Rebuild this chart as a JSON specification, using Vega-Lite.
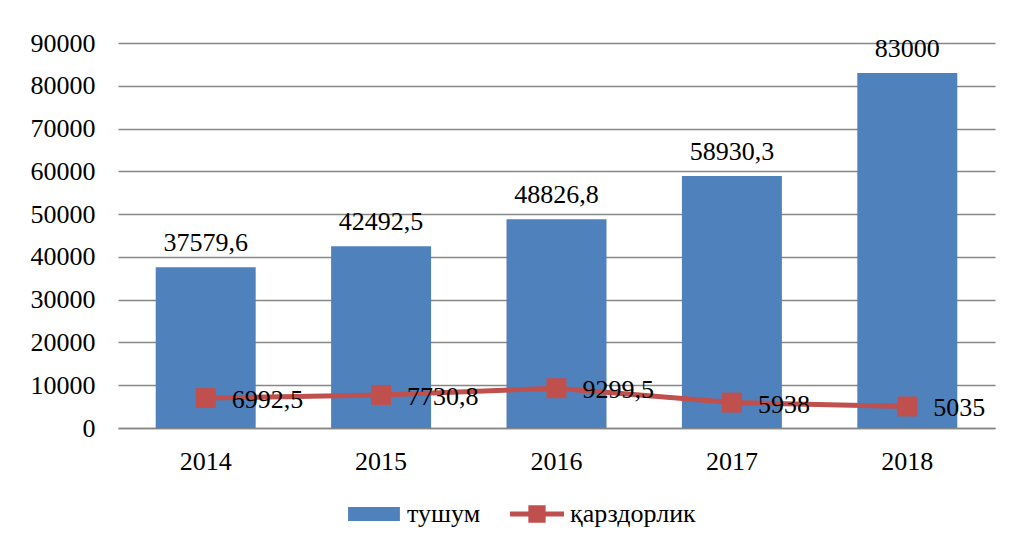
{
  "$schema": "https://vega.github.io/schema/vega-lite/v6.json",
  "width": 877,
  "height": 385,
  "autosize": {"type": "none"},
  "padding": {"left": 118, "top": 43, "right": 21, "bottom": 119},
  "background": "white",
  "config": {
    "font": "Liberation Serif, Times New Roman, serif",
    "axis": {"labelFont": "Liberation Serif, Times New Roman, serif"},
    "legend": {"labelFont": "Liberation Serif, Times New Roman, serif"},
    "text": {"font": "Liberation Serif, Times New Roman, serif"},
    "view": {"stroke": null},
    "locale": {"number": {"decimal": ",", "thousands": "", "grouping": [3], "currency": ["", ""]}}
  },
  "data": {
    "values": [
      {"year": "2014", "series": "тушум", "value": 37579.6},
      {"year": "2015", "series": "тушум", "value": 42492.5},
      {"year": "2016", "series": "тушум", "value": 48826.8},
      {"year": "2017", "series": "тушум", "value": 58930.3},
      {"year": "2018", "series": "тушум", "value": 83000},
      {"year": "2014", "series": "қарздорлик", "value": 6992.5},
      {"year": "2015", "series": "қарздорлик", "value": 7730.8},
      {"year": "2016", "series": "қарздорлик", "value": 9299.5},
      {"year": "2017", "series": "қарздорлик", "value": 5938},
      {"year": "2018", "series": "қарздорлик", "value": 5035}
    ]
  },
  "encoding": {
    "x": {
      "field": "year",
      "type": "ordinal",
      "scale": {"paddingInner": 0.43, "paddingOuter": 0.215},
      "axis": {
        "title": null,
        "labelAngle": 0,
        "labelFont": "Liberation Serif, Times New Roman, serif",
        "labelFontSize": 26,
        "labelColor": "black",
        "labelPadding": 20,
        "ticks": false,
        "tickSize": 0,
        "domainColor": "#868686",
        "domainWidth": 1.5
      }
    },
    "y": {
      "field": "value",
      "type": "quantitative",
      "scale": {"domain": [0, 90000], "nice": false},
      "axis": {
        "title": null,
        "values": [0, 10000, 20000, 30000, 40000, 50000, 60000, 70000, 80000, 90000],
        "format": "d",
        "labelFont": "Liberation Serif, Times New Roman, serif",
        "labelFontSize": 26,
        "labelColor": "black",
        "labelPadding": 23,
        "ticks": false,
        "tickSize": 0,
        "domain": false,
        "grid": true,
        "gridColor": "#868686",
        "gridWidth": 1.5
      }
    }
  },
  "layer": [
    {
      "transform": [{"filter": "datum.series === 'тушум'"}],
      "mark": {"type": "bar"},
      "encoding": {
        "color": {
          "field": "series",
          "type": "nominal",
          "scale": {"domain": ["тушум", "қарздорлик"], "range": ["#4F81BD", "#C0504D"]},
          "legend": {
            "title": null,
            "orient": "none",
            "direction": "horizontal",
            "legendX": 229,
            "legendY": 444,
            "symbolSize": 2916,
            "labelFontSize": 26,
            "labelColor": "black",
            "labelFont": "Liberation Serif, Times New Roman, serif",
            "labelOffset": 6,
            "columnPadding": 29,
            "encode": {
              "symbols": {
                "update": {
                  "shape": {"signal": "datum.value === 'тушум' ? 'M-0.96,-0.26H0.96V0.26H-0.96Z' : 'M-1,-0.09H-0.32V-0.32H0.32V-0.09H1V0.09H0.32V0.32H-0.32V0.09H-1Z'"},
                  "fill": {"signal": "datum.value === 'тушум' ? '#4F81BD' : '#C0504D'"},
                  "stroke": {"value": "transparent"},
                  "strokeWidth": {"value": 0},
                  "opacity": {"value": 1},
                  "fillOpacity": {"value": 1}
                }
              }
            }
          }
        }
      }
    },
    {
      "transform": [{"filter": "datum.series === 'тушум'"}],
      "mark": {"type": "text", "baseline": "alphabetic", "dy": -16, "fontSize": 26, "color": "black", "font": "Liberation Serif, Times New Roman, serif"},
      "encoding": {"text": {"field": "value", "type": "quantitative", "format": ".1~f"}}
    },
    {
      "transform": [{"filter": "datum.series === 'қарздорлик'"}],
      "mark": {"type": "line", "strokeWidth": 5},
      "encoding": {"color": {"field": "series", "type": "nominal"}}
    },
    {
      "transform": [{"filter": "datum.series === 'қарздорлик'"}],
      "mark": {"type": "point", "shape": "square", "filled": true, "size": 400, "opacity": 1},
      "encoding": {"color": {"field": "series", "type": "nominal"}}
    },
    {
      "transform": [{"filter": "datum.series === 'қарздорлик'"}],
      "mark": {"type": "text", "align": "left", "baseline": "alphabetic", "dx": 26, "dy": 10, "fontSize": 26, "color": "black", "font": "Liberation Serif, Times New Roman, serif"},
      "encoding": {"text": {"field": "value", "type": "quantitative", "format": ".1~f"}}
    }
  ]
}
